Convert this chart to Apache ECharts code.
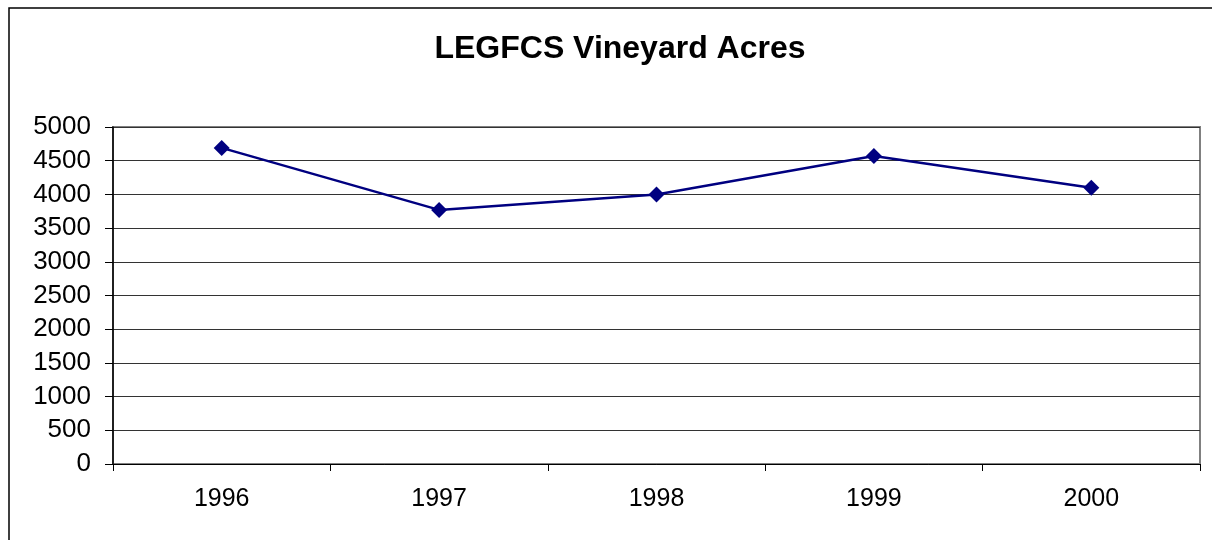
<!DOCTYPE html>
<html>
<head>
<meta charset="utf-8">
<script src="https://cdn.jsdelivr.net/npm/echarts@6/dist/echarts.min.js"></script>
<style>
  html, body { margin: 0; padding: 0; background: #fff; }
  #chart { width: 1212px; height: 540px; }
</style>
</head>
<body>
<div id="chart"></div>
<script>
// data
var years = ['1996', '1997', '1998', '1999', '2000'];
var acres = [4690, 3770, 4000, 4570, 4100];
var yTicks = [0, 5000, 500]; // min, max, step

var chart = echarts.init(document.getElementById('chart'));

chart.setOption({
  animation: false,
  backgroundColor: '#fff',
  title: {
    text: 'LEGFCS Vineyard Acres',
    left: 615,
    top: 28,
    textAlign: 'center',
    textStyle: { fontFamily: 'Liberation Sans', fontSize: 32, fontWeight: 'bold', color: '#000' }
  },
  // outer frame of the chart
  graphic: [{
    type: 'rect',
    shape: { x: 9, y: 8, width: 1220, height: 560 },
    style: { fill: 'none', stroke: '#000', lineWidth: 1.5 },
    silent: true
  }],
  grid: {
    left: 113, top: 127, right: 12, bottom: 76,
    show: true, borderColor: '#808080', borderWidth: 2, backgroundColor: 'transparent'
  },
  xAxis: {
    type: 'category',
    data: years,
    boundaryGap: true,
    axisLine: { lineStyle: { color: '#000', width: 1 } },
    axisTick: { show: true, length: 7, lineStyle: { color: '#000' } },
    axisLabel: { margin: 23, fontFamily: 'Liberation Sans', fontSize: 25, color: '#000' },
    splitLine: { show: false }
  },
  yAxis: {
    type: 'value',
    min: yTicks[0],
    max: yTicks[1],
    interval: yTicks[2],
    axisLine: { show: true, lineStyle: { color: '#000', width: 1.5 } },
    axisTick: { show: true, length: 8, lineStyle: { color: '#000' } },
    axisLabel: {
      margin: 22, fontFamily: 'Liberation Sans', fontSize: 26, color: '#000',
      formatter: function (v) { return String(v); }
    },
    splitLine: { show: true, lineStyle: { color: '#333', width: 1.2 } }
  },
  series: [{
    type: 'line',
    data: acres,
    symbol: 'diamond',
    symbolSize: 16,
    lineStyle: { color: '#000080', width: 2.5 },
    itemStyle: { color: '#000080' }
  }]
});
</script>
</body>
</html>
